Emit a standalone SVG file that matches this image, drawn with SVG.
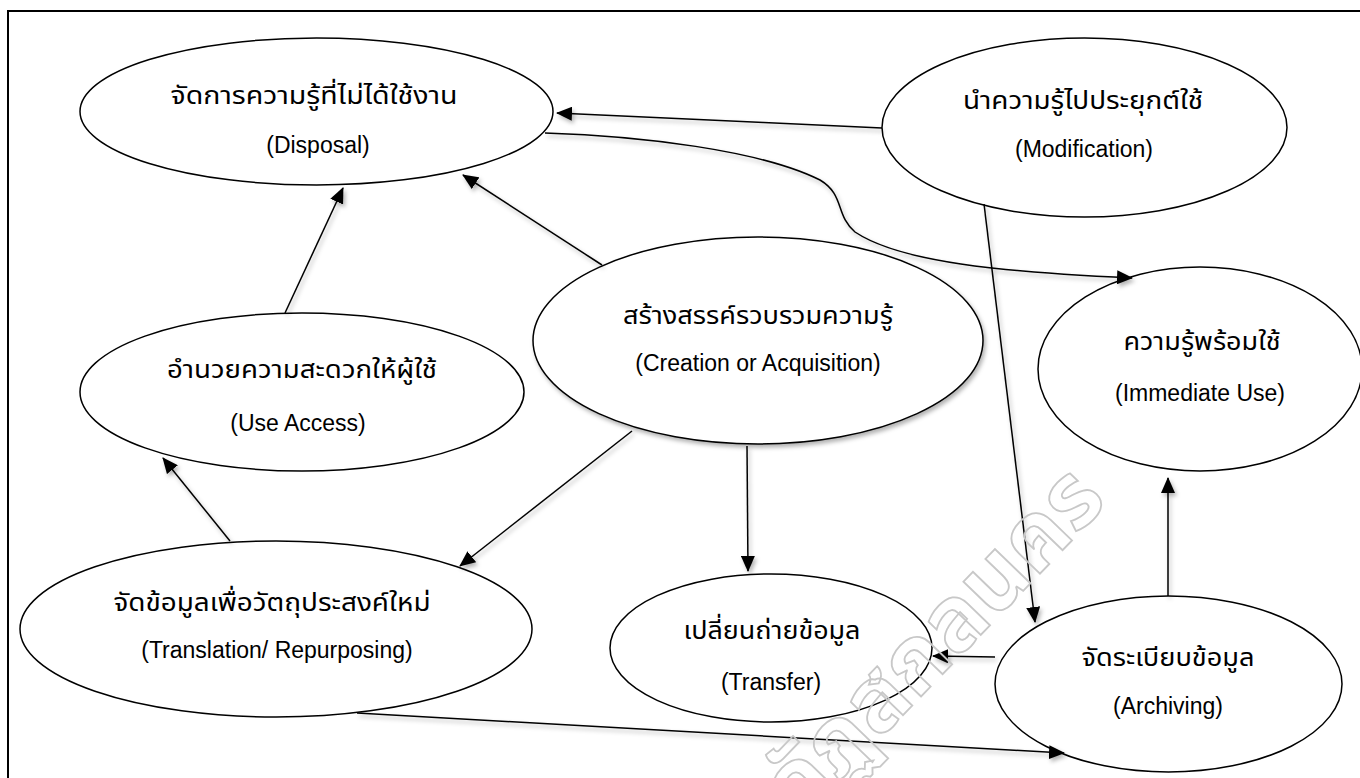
<svg xmlns="http://www.w3.org/2000/svg" width="1360" height="778" viewBox="0 0 1360 778">
<style>
.nd{fill:#fff;stroke:#000;stroke-width:1.5}
.th{font-family:"Noto Sans Thai","Noto Sans","Liberation Sans",sans-serif;font-size:25px;fill:#000;text-anchor:middle}
.en{font-family:"Liberation Sans",Arial,sans-serif;font-size:23px;fill:#000;text-anchor:middle}
.cn{fill:none;stroke:#000;stroke-width:1.5;marker-end:url(#ah)}
.wm{font-family:"Noto Sans Thai","Noto Sans",sans-serif;font-size:90px;font-weight:bold;fill:none;stroke:#c8c8c8;stroke-width:1.8}
</style>
<defs>
<marker id="ah" markerWidth="16" markerHeight="14" refX="15" refY="7" orient="auto" markerUnits="userSpaceOnUse"><path d="M0,0 L16,7 L0,14 z" fill="#000"/></marker>
<filter id="sh" filterUnits="userSpaceOnUse" x="0" y="0" width="1360" height="778"><feDropShadow dx="2" dy="3" stdDeviation="2" flood-color="#000" flood-opacity="0.3"/></filter>
</defs>
<rect x="0" y="0" width="1360" height="778" fill="#fff"/>
<rect x="8" y="11" width="1400" height="820" fill="none" stroke="#000" stroke-width="2"/>
<g id="creation"><ellipse class="nd" cx="758" cy="340.5" rx="225" ry="103.5" filter="url(#sh)"/><text class="th" x="758" y="324" textLength="270" lengthAdjust="spacingAndGlyphs">สร้างสรรค์รวบรวมความรู้</text><text class="en" x="758" y="371">(Creation or Acquisition)</text></g>
<g id="disposal"><ellipse class="nd" cx="316.5" cy="111.5" rx="236.5" ry="73.5"/><text class="th" x="314" y="104" textLength="287" lengthAdjust="spacingAndGlyphs">จัดการความรู้ที่ไม่ได้ใช้งาน</text><text class="en" x="318" y="153">(Disposal)</text></g>
<g id="modification"><ellipse class="nd" cx="1084.5" cy="127.5" rx="202.5" ry="89.5"/><text class="th" x="1083" y="109" textLength="240" lengthAdjust="spacingAndGlyphs">นำความรู้ไปประยุกต์ใช้</text><text class="en" x="1084" y="157">(Modification)</text></g>
<g id="immediate"><ellipse class="nd" cx="1200" cy="369" rx="162" ry="102"/><text class="th" x="1202" y="350" textLength="157" lengthAdjust="spacingAndGlyphs">ความรู้พร้อมใช้</text><text class="en" x="1200" y="401">(Immediate Use)</text></g>
<g id="useaccess"><ellipse class="nd" cx="302" cy="392" rx="222" ry="79"/><text class="th" x="302" y="378" textLength="270" lengthAdjust="spacingAndGlyphs">อำนวยความสะดวกให้ผู้ใช้</text><text class="en" x="298" y="431">(Use Access)</text></g>
<g id="translation"><ellipse class="nd" cx="276" cy="629" rx="256" ry="88"/><text class="th" x="272" y="611" textLength="317" lengthAdjust="spacingAndGlyphs">จัดข้อมูลเพื่อวัตถุประสงค์ใหม่</text><text class="en" x="277" y="658">(Translation/ Repurposing)</text></g>
<g id="transfer"><ellipse class="nd" cx="771" cy="648" rx="161" ry="74"/><text class="th" x="772" y="639" textLength="177" lengthAdjust="spacingAndGlyphs">เปลี่ยนถ่ายข้อมูล</text><text class="en" x="771" y="690">(Transfer)</text></g>
<g id="archiving"><ellipse class="nd" cx="1168.5" cy="684" rx="173.5" ry="88"/><text class="th" x="1168" y="666" textLength="173" lengthAdjust="spacingAndGlyphs">จัดระเบียบข้อมูล</text><text class="en" x="1168" y="714">(Archiving)</text></g>
<g id="connectors" filter="url(#sh)">
<line class="cn" x1="882" y1="128" x2="557" y2="113"/>
<path class="cn" d="M545,133 C640,136 760,150 820,180 C845,195 835,215 855,232 C900,262 1000,272 1132,278"/>
<line class="cn" x1="602" y1="265" x2="463" y2="175"/>
<line class="cn" x1="285" y1="313" x2="343" y2="188"/>
<line class="cn" x1="230" y1="541" x2="163" y2="458"/>
<line class="cn" x1="632" y1="431" x2="460" y2="566"/>
<line class="cn" x1="747" y1="446" x2="748" y2="571"/>
<line class="cn" x1="984" y1="204" x2="1035" y2="622"/>
<line class="cn" x1="995" y1="657" x2="933" y2="656"/>
<line class="cn" x1="1168" y1="596" x2="1168" y2="478"/>
<line class="cn" x1="357" y1="713" x2="1064" y2="753"/>
</g>
<text class="wm" transform="translate(798,824) rotate(-46)" textLength="448" lengthAdjust="spacingAndGlyphs">ภัฏสกลนคร</text>
</svg>
